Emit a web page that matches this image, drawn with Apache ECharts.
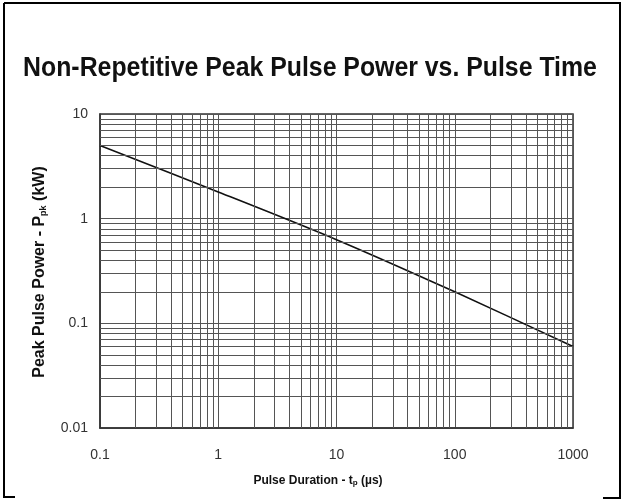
<!DOCTYPE html>
<html>
<head>
<meta charset="utf-8">
<script src="https://cdn.jsdelivr.net/npm/echarts@6/dist/echarts.min.js"></script>
<style>
  html, body { margin: 0; padding: 0; background: #fff; }
  #chart { width: 622px; height: 499px; }
</style>
</head>
<body>
<div id="chart"></div>
<script>
// pulse duration (us) vs peak pulse power (kW)
var pulseTime = [0.1, 1, 10, 100, 1000]
var peakPower = [5, 1.8, 0.63, 0.2, 0.06]

// minor grid positions (2..9 of each decade)
var xMinor = [0.2, 0.3, 0.4, 0.5, 0.6, 0.7, 0.8, 0.9,
  2, 3, 4, 5, 6, 7, 8, 9,
  20, 30, 40, 50, 60, 70, 80, 90,
  200, 300, 400, 500, 600, 700, 800, 900]
var yMinor = [0.02, 0.03, 0.04, 0.05, 0.06, 0.07, 0.08, 0.09,
  0.2, 0.3, 0.4, 0.5, 0.6, 0.7, 0.8, 0.9,
  2, 3, 4, 5, 6, 7, 8, 9]

var gridColor = '#555'

var chart = echarts.init(document.getElementById('chart'))

var minorLines = []
xMinor.forEach(function (v) { minorLines.push({ xAxis: v }) })
yMinor.forEach(function (v) { minorLines.push({ yAxis: v }) })

function fmt(v) {
  return String(Number(v.toPrecision(3)))
}

chart.setOption({
  backgroundColor: '#fff',
  animation: false,
  grid: {
    left: 100,
    right: 49,
    top: 114,
    bottom: 71,
    show: true,
    borderColor: '#333',
    borderWidth: 1.5
  },
  xAxis: {
    type: 'log',
    logBase: 10,
    min: 0.1,
    max: 1000,
    axisLine: { show: true, lineStyle: { color: '#333', width: 1.5 } },
    axisTick: { show: false },
    axisLabel: {
      margin: 20,
      fontFamily: 'Liberation Sans',
      fontSize: 14,
      color: '#333',
      formatter: fmt
    },
    splitLine: { show: true, lineStyle: { color: gridColor, width: 1 } }
  },
  yAxis: {
    type: 'log',
    logBase: 10,
    min: 0.01,
    max: 10,
    axisLine: { show: true, lineStyle: { color: '#333', width: 1.5 } },
    axisTick: { show: false },
    axisLabel: {
      margin: 12,
      fontFamily: 'Liberation Sans',
      fontSize: 14,
      color: '#333',
      formatter: fmt
    },
    splitLine: { show: true, lineStyle: { color: gridColor, width: 1 } }
  },
  series: [
    {
      name: 'grid',
      type: 'line',
      data: [],
      silent: true,
      markLine: {
        silent: true,
        symbol: 'none',
        label: { show: false },
        lineStyle: { color: gridColor, width: 1, type: 'solid' },
        emphasis: { disabled: true },
        data: minorLines
      }
    },
    {
      name: 'Ppk',
      type: 'line',
      data: pulseTime.map(function (t, i) { return [t, peakPower[i]] }),
      smooth: 0.3,
      showSymbol: false,
      lineStyle: { color: '#111', width: 1.6 }
    }
  ],
  graphic: [
    { type: 'line', shape: { x1: 4, y1: 3, x2: 621, y2: 3 }, style: { stroke: '#000', lineWidth: 2 } },
    { type: 'line', shape: { x1: 4, y1: 3, x2: 4, y2: 498 }, style: { stroke: '#000', lineWidth: 2 } },
    { type: 'line', shape: { x1: 620, y1: 3, x2: 620, y2: 499 }, style: { stroke: '#000', lineWidth: 2 } },
    { type: 'line', shape: { x1: 4, y1: 497, x2: 15, y2: 497 }, style: { stroke: '#000', lineWidth: 2 } },
    { type: 'line', shape: { x1: 603, y1: 498, x2: 621, y2: 498 }, style: { stroke: '#000', lineWidth: 2 } },
    {
      // title, condensed bold
      type: 'text',
      x: 310,
      y: 69,
      scaleX: 0.92,
      style: {
        text: 'Non-Repetitive Peak Pulse Power vs. Pulse Time',
        align: 'center',
        verticalAlign: 'middle',
        fontFamily: 'Liberation Sans',
        fontWeight: 'bold',
        fontSize: 27,
        fill: '#111'
      }
    },
    {
      type: 'text',
      x: 318,
      y: 481,
      style: {
        text: 'Pulse Duration - t{sub|p} (µs)',
        align: 'center',
        verticalAlign: 'middle',
        fontFamily: 'Liberation Sans',
        fontWeight: 'bold',
        fontSize: 12,
        fill: '#111',
        rich: {
          sub: { fontSize: 8, fontWeight: 'bold', lineHeight: 8, verticalAlign: 'bottom', padding: [6, 0, 0, 0] }
        }
      }
    },
    {
      type: 'text',
      x: 40,
      y: 272,
      rotation: Math.PI / 2,
      style: {
        text: 'Peak Pulse Power - P{sub|pk} (kW)',
        align: 'center',
        verticalAlign: 'middle',
        fontFamily: 'Liberation Sans',
        fontWeight: 'bold',
        fontSize: 16,
        fill: '#111',
        rich: {
          sub: { fontSize: 9, fontWeight: 'bold', lineHeight: 9, verticalAlign: 'bottom', padding: [7, 0, 0, 0] }
        }
      }
    }
  ]
})
</script>
</body>
</html>
